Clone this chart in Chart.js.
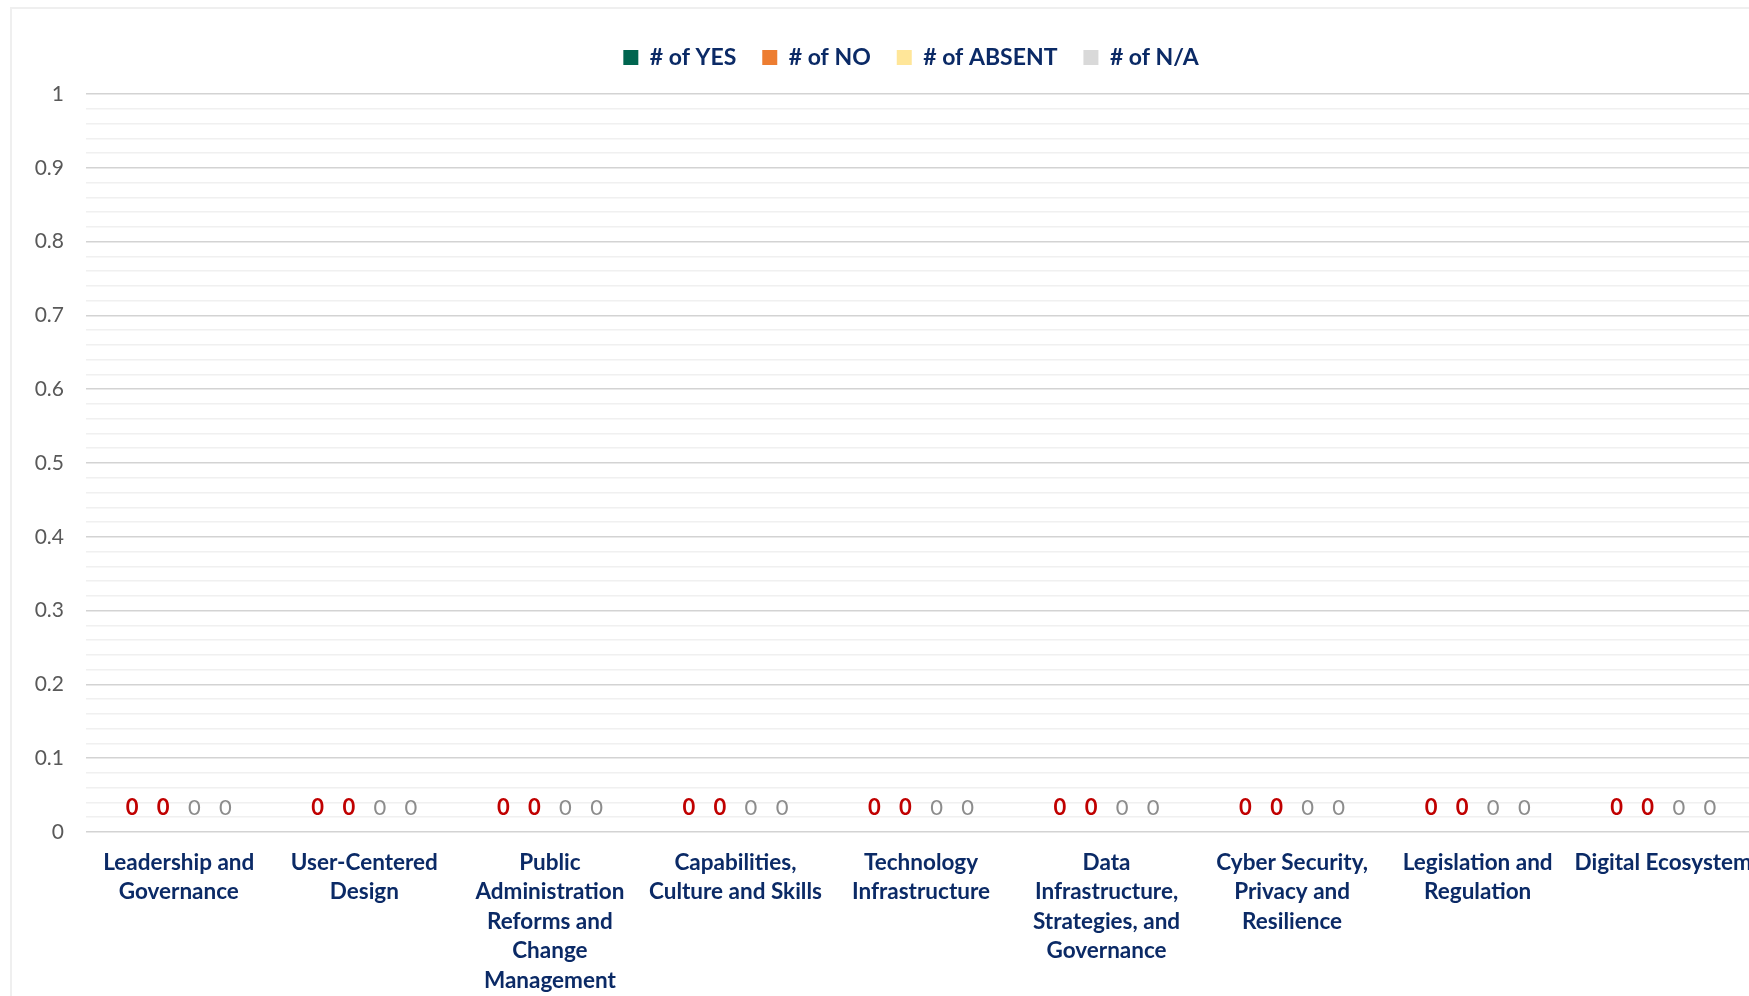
<!DOCTYPE html>
<html>
<head>
<meta charset="utf-8">
<script src="https://cdn.jsdelivr.net/npm/chart.js@4.4.1/dist/chart.umd.min.js"></script>
<style>
  html, body { margin: 0; padding: 0; background: #ffffff; overflow: hidden; width: 1749px; height: 996px; }
  #frame { position: absolute; left: 10px; top: 7px; width: 1820px; height: 1100px; border: 2px solid #efefef; box-sizing: border-box; }
  #wrap { position: absolute; left: 0; top: 0; width: 1790px; height: 1050px; }
</style>
</head>
<body>
<div id="frame"></div>
<div id="wrap"><canvas id="c" width="1790" height="1050"></canvas></div>
<script>
const categories = [
  ["Leadership and", "Governance"],
  ["User-Centered", "Design"],
  ["Public", "Administration", "Reforms and", "Change", "Management"],
  ["Capabilities,", "Culture and Skills"],
  ["Technology", "Infrastructure"],
  ["Data", "Infrastructure,", "Strategies, and", "Governance"],
  ["Cyber Security,", "Privacy and", "Resilience"],
  ["Legislation and", "Regulation"],
  ["Digital Ecosystem"]
];
const yesValues    = [0, 0, 0, 0, 0, 0, 0, 0, 0];
const noValues     = [0, 0, 0, 0, 0, 0, 0, 0, 0];
const absentValues = [0, 0, 0, 0, 0, 0, 0, 0, 0];
const naValues     = [0, 0, 0, 0, 0, 0, 0, 0, 0];
const seriesNames  = ["# of YES", "# of NO", "# of ABSENT", "# of N/A"];
const yMin = 0, yMax = 1, yMajorStep = 0.1, yMinorStep = 0.02;

const FONT = "Lato, 'Open Sans', sans-serif";
const NAVY = "#0b2a66";

const labelStyles = [
  { color: "#c00000", weight: "bold" },
  { color: "#c00000", weight: "bold" },
  { color: "#8c8c8c", weight: "normal" },
  { color: "#8c8c8c", weight: "normal" }
];

const dataLabelPlugin = {
  id: "dataLabels",
  afterDatasetsDraw(chart) {
    const ctx = chart.ctx;
    chart.data.datasets.forEach((ds, i) => {
      const meta = chart.getDatasetMeta(i);
      const st = labelStyles[i];
      ctx.save();
      ctx.font = st.weight + " 22px " + FONT;
      ctx.fillStyle = st.color;
      ctx.textAlign = "center";
      ctx.textBaseline = "middle";
      meta.data.forEach((bar, j) => {
        ctx.fillText(String(ds.data[j]), bar.x, bar.y - 24);
      });
      ctx.restore();
    });
  }
};

const legendTweak = {
  id: "legendTweak",
  beforeInit(chart) {
    const lg = chart.legend;
    if (!lg) return;
    const orig = lg.fit;
    lg.fit = function () {
      orig.bind(lg)();
      this.height += 15;
    };
  },
  afterLayout(chart) {
    const lg = chart.legend;
    if (!lg) return;
    lg.left += 33;
    lg.right += 33;
  }
};

function isMajor(v) {
  return Math.abs(v / yMajorStep - Math.round(v / yMajorStep)) < 1e-6;
}

new Chart(document.getElementById("c"), {
  type: "bar",
  data: {
    labels: categories,
    datasets: [
      { label: seriesNames[0], data: yesValues,    backgroundColor: "#00654f" },
      { label: seriesNames[1], data: noValues,     backgroundColor: "#ed7d31" },
      { label: seriesNames[2], data: absentValues, backgroundColor: "#ffe699" },
      { label: seriesNames[3], data: naValues,     backgroundColor: "#d9d9d9" }
    ]
  },
  options: {
    responsive: false,
    animation: false,
    layout: { padding: { left: 0, right: 34, top: 20, bottom: 8 } },
    datasets: { bar: { categoryPercentage: 0.67, barPercentage: 1.0 } },
    plugins: {
      tooltip: { enabled: false },
      legend: {
        position: "top",
        align: "center",
        labels: {
          boxWidth: 15, boxHeight: 15, padding: 26,
          color: NAVY,
          font: { family: FONT, size: 23, weight: "bold" }
        }
      }
    },
    scales: {
      x: {
        grid: { display: false, drawTicks: false },
        border: { display: false },
        ticks: {
          color: NAVY,
          padding: 16,
          maxRotation: 0, minRotation: 0, autoSkip: false,
          font: { family: FONT, size: 22.5, weight: "bold", lineHeight: 1.31 }
        },
        afterFit(scale) { scale.height = 210; }
      },
      y: {
        min: yMin, max: yMax,
        grid: {
          drawTicks: false,
          color: (c) => isMajor(c.tick.value) ? "#d3d3d3" : "#f0f0f0",
          lineWidth: 1.5
        },
        border: { display: false },
        ticks: {
          stepSize: yMinorStep,
          autoSkip: false,
          maxTicksLimit: 200,
          padding: 22,
          color: "#595959",
          font: { family: FONT, size: 21 },
          callback: (v) => isMajor(v) ? String(Math.round(v * 10) / 10) : ""
        },
        afterFit(scale) { scale.width = 86; }
      }
    }
  },
  plugins: [dataLabelPlugin, legendTweak]
});
</script>
</body>
</html>
